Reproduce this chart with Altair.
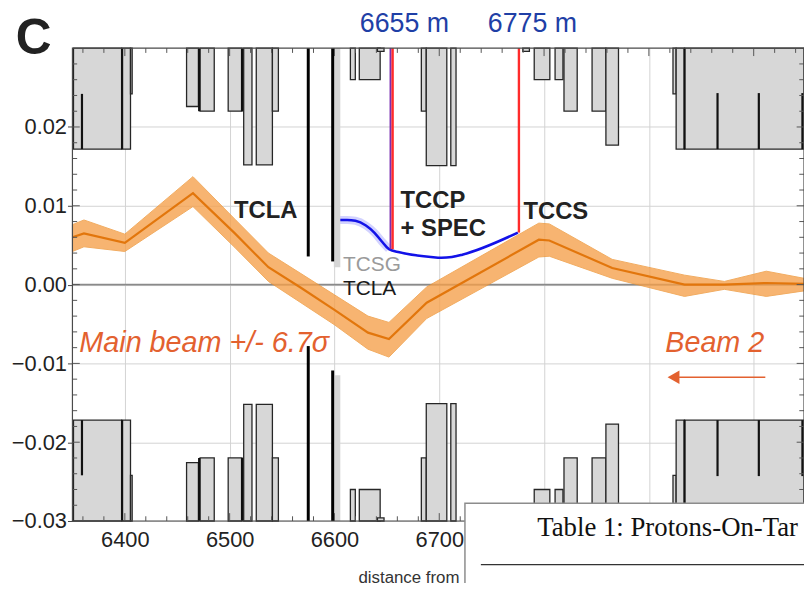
import altair as alt
import pandas as pd

# ---------------- axes ----------------
X_MIN, X_MAX = 6350, 7048
Y_MIN, Y_MAX = -0.03, 0.03
x_ticks = [6400, 6500, 6600, 6700, 6800, 6900, 7000]
y_ticks = [-0.03, -0.02, -0.01, 0.0, 0.01, 0.02]
x_minor = list(range(6360, 7041, 20))
y_minor = [round(-0.028 + 0.002 * i, 3) for i in range(29)]

# ---------------- main beam envelope (orange) ----------------
beam_s = [6350, 6361, 6400, 6465, 6505, 6537, 6568, 6600, 6632, 6652, 6688, 6795, 6805, 6865, 6934, 6972, 7012, 7048]
beam_c = [0.0060, 0.0065, 0.0053, 0.0116, 0.0065, 0.0022, -0.0004, -0.0032, -0.0061, -0.0069, -0.0023, 0.0057, 0.0056, 0.0021, 0.0000, 0.0000, 0.0002, 0.0001]
beam_hi = [0.0076, 0.0082, 0.0064, 0.0137, 0.0083, 0.0040, 0.0014, -0.0013, -0.0040, -0.0048, -0.0003, 0.0078, 0.0077, 0.0032, 0.0012, 0.0004, 0.0017, 0.0008]
beam_lo = [0.0042, 0.0048, 0.0042, 0.0099, 0.0047, 0.0004, -0.0023, -0.0051, -0.0082, -0.0092, -0.0043, 0.0035, 0.0036, 0.0008, -0.0015, -0.0006, -0.0015, -0.0008]

# ---------------- secondary beam (blue) ----------------
blue_s = [6600, 6612, 6620, 6630, 6638, 6645, 6652, 6662, 6679, 6692, 6702, 6712, 6722, 6775]
blue_y = [0.0082, 0.0082, 0.0081, 0.0075, 0.0066, 0.0055, 0.0045, 0.0041, 0.0037, 0.0035, 0.0034, 0.0035, 0.0038, 0.0066]

# ---------------- apertures (grey boxes, mirrored top/bottom) ----------------
ap_x1 = [6351, 6397.2, 6405.4, 6458.9, 6471.8, 6498.6, 6513.4, 6525.4, 6540.8, 6615.2, 6623.7, 6641, 6682.9, 6687.6, 6711, 6779.7, 6790.6, 6810.5, 6819, 6845.8, 6859, 6923, 6926, 6934]
ap_x2 = [6396.9, 6405.4, 6407, 6470.2, 6485.3, 6511.8, 6521.3, 6540.8, 6546.5, 6619.9, 6643.6, 6647.3, 6687.6, 6707.2, 6716, 6786, 6805.5, 6818, 6831.6, 6859, 6871, 6926, 6934, 7048]
ap_half = [0.0172, 0.0172, 0.0242, 0.0226, 0.0220, 0.0220, 0.0152, 0.0152, 0.0220, 0.0260, 0.0260, 0.0296, 0.0220, 0.0151, 0.0151, 0.0296, 0.0260, 0.0260, 0.0220, 0.0220, 0.0177, 0.0242, 0.0172, 0.0172]

# element dividers (black)
div_x = [6359.1, 6397.4, 6470.9, 6511.8, 6934.0, 6965.5, 7004.9, 7046.5]
div_from = [0.0242, 0.0300, 0.0300, 0.0300, 0.0300, 0.0243, 0.0243, 0.0243]
div_to = [0.0172, 0.0172, 0.0220, 0.0220, 0.0172, 0.0172, 0.0172, 0.0172]

# collimator jaws
jaw_x = [6575.0, 6598.3]
jaw_top = [0.00357, 0.00294]
jaw_bot = [-0.0078, -0.0109]
tcsg_x = [6599.4, 6605.6]
tcsg_top = 0.0022
tcsg_bot = -0.0115

# crystal / spectrometer markers
red_x = [6655.5, 6776.0]
red_end = [0.0045, 0.0066]

FONT = "Liberation Sans"
xs = alt.Scale(domain=[X_MIN, X_MAX], nice=False, zero=False)
ys = alt.Scale(domain=[Y_MIN, Y_MAX], nice=False, zero=False)
XAX = alt.Axis(values=x_ticks, format="d", tickSize=0, domain=False, grid=True,
               labelExpr="datum.value > 6750 ? '' : datum.label",
               labelPadding=9, title="distance from", titleAlign="left", titleAnchor="start",
               titleX=288, titlePadding=19)
YAX = alt.Axis(values=y_ticks, labelExpr="replace(format(datum.value, '.2f'), '-', '\u2212')",
               tickSize=5, domain=False, grid=True, labelPadding=1, title="")


def X(f):
    return alt.X(f, type="quantitative", scale=xs, axis=XAX)


def Y(f):
    return alt.Y(f, type="quantitative", scale=ys, axis=YAX)


# boxes
rows = []
for a, b, h in zip(ap_x1, ap_x2, ap_half):
    rows.append({"x1": a, "x2": b, "y1": Y_MAX, "y2": h})
    rows.append({"x1": a, "x2": b, "y1": Y_MIN, "y2": -h})
boxes = alt.Chart(pd.DataFrame(rows)).mark_rect(fill="#d7d7d7", stroke="#262626", strokeWidth=1.3).encode(
    x=X("x1"), x2="x2:Q", y=Y("y1"), y2="y2:Q")

div_rows = []
for x, f, t in zip(div_x, div_from, div_to):
    div_rows.append({"x": x, "y1": f, "y2": t})
    div_rows.append({"x": x, "y1": -f, "y2": -t})
dividers = alt.Chart(pd.DataFrame(div_rows)).mark_rule(color="#111", strokeWidth=2.2).encode(
    x=X("x"), y=Y("y1"), y2="y2:Q")

zero = alt.Chart(pd.DataFrame({"x1": [X_MIN], "x2": [X_MAX], "y": [0.0]})).mark_rule(
    color="#8a8a8a", strokeWidth=1.6).encode(x=X("x1"), x2="x2:Q", y=Y("y"))

beam_df = pd.DataFrame({"s": beam_s, "c": beam_c, "hi": beam_hi, "lo": beam_lo})
band = alt.Chart(beam_df).mark_area(color="#f6a04a", opacity=0.78, stroke="#ee9535", strokeWidth=1).encode(
    x=X("s"), y=Y("lo"), y2="hi:Q")
center = alt.Chart(beam_df).mark_line(color="#e2760c", strokeWidth=2.2).encode(x=X("s"), y=Y("c"))

blue_df = pd.DataFrame({"s": blue_s, "y": blue_y})
glow = alt.Chart(blue_df).transform_filter("datum.s <= 6652").mark_line(
    color="#6a6aff", strokeWidth=8, opacity=0.3, interpolate="monotone").encode(x=X("s"), y=Y("y"))
blue = alt.Chart(blue_df).mark_line(color="#1212e8", strokeWidth=2.6, interpolate="monotone").encode(
    x=X("s"), y=Y("y"))

red_df = pd.DataFrame({"x": red_x, "y1": [Y_MAX, Y_MAX], "y2": red_end})
purple = alt.Chart(red_df.iloc[[0]]).transform_calculate(xp="datum.x - 2").mark_rule(
    color="#7a2fb0", strokeWidth=2).encode(x=X("xp"), y=Y("y1"), y2="y2:Q")
red = alt.Chart(red_df).mark_rule(color="#ff2b2b", strokeWidth=2.4).encode(x=X("x"), y=Y("y1"), y2="y2:Q")

tcsg_df = pd.DataFrame({"x1": [tcsg_x[0]] * 2, "x2": [tcsg_x[1]] * 2, "y1": [Y_MAX, Y_MIN], "y2": [tcsg_top, tcsg_bot]})
tcsg = alt.Chart(tcsg_df).mark_rect(fill="#d6d6d6").encode(x=X("x1"), x2="x2:Q", y=Y("y1"), y2="y2:Q")

jaw_rows = []
for x, t, b in zip(jaw_x, jaw_top, jaw_bot):
    jaw_rows.append({"x": x, "y1": Y_MAX, "y2": t})
    jaw_rows.append({"x": x, "y1": Y_MIN, "y2": b})
jaws = alt.Chart(pd.DataFrame(jaw_rows)).mark_rule(color="#000", strokeWidth=3).encode(
    x=X("x"), y=Y("y1"), y2="y2:Q")

# minor ticks + frame
tick_rows = []
for v in x_minor:
    L = 0.0010 if v % 100 == 0 else 0.0006
    tick_rows.append({"x1": v, "x2": v, "y1": Y_MAX, "y2": Y_MAX - L})
    tick_rows.append({"x1": v, "x2": v, "y1": Y_MIN, "y2": Y_MIN + L})
for v in y_minor:
    L = 7.0 if abs(round(v * 100) - v * 100) < 1e-6 else 4.5
    tick_rows.append({"x1": X_MIN, "x2": X_MIN + L, "y1": v, "y2": v})
    tick_rows.append({"x1": X_MAX, "x2": X_MAX - L, "y1": v, "y2": v})
ticks = alt.Chart(pd.DataFrame(tick_rows)).mark_rule(color="#555", strokeWidth=1).encode(
    x=X("x1"), x2="x2:Q", y=Y("y1"), y2="y2:Q")

frame = alt.Chart(pd.DataFrame({"x1": [X_MIN], "x2": [X_MAX], "y1": [Y_MIN], "y2": [Y_MAX]})).mark_rect(
    filled=False, stroke="#4a4a4a", strokeWidth=1.2).encode(x=X("x1"), x2="x2:Q", y=Y("y1"), y2="y2:Q")

# labels
bold_df = pd.DataFrame({"t": ["TCLA", "TCCP", "+ SPEC", "TCCS"],
                        "x": [6504.2, 6663.1, 6663.1, 6780.3],
                        "y": [0.00937, 0.01063, 0.00711, 0.00925]})
bold = alt.Chart(bold_df).mark_text(font=FONT, fontSize=24, fontWeight="bold", color="#222",
                                    align="left", baseline="middle").encode(x=X("x"), y=Y("y"), text="t:N")

reg_df = pd.DataFrame({"t": ["TCSG", "TCLA"], "x": [6608.2, 6608.2], "y": [0.00245, -0.00057],
                       "c": ["#9a9a9a", "#1a1a1a"]})
reg = alt.Chart(reg_df).mark_text(font=FONT, fontSize=21, align="left", baseline="middle").encode(
    x=X("x"), y=Y("y"), text="t:N", color=alt.Color("c:N", scale=None))

ital_df = pd.DataFrame({"t": ["Main beam +/- 6.7\u03c3", "Beam 2"], "x": [6356.6, 6915.6], "y": [-0.00748, -0.00736]})
ital = alt.Chart(ital_df).mark_text(font=FONT, fontSize=29, fontStyle="italic", color="#e3612f",
                                    align="left", baseline="middle").encode(x=X("x"), y=Y("y"), text="t:N")

arrow_line = alt.Chart(pd.DataFrame({"x1": [6928.8], "x2": [7011.1], "y": [-0.01176]})).mark_rule(
    color="#e3612f", strokeWidth=1.6).encode(x=X("x1"), x2="x2:Q", y=Y("y"))
arrow_head = alt.Chart(pd.DataFrame({"x": [6923.5], "y": [-0.01176]})).mark_point(
    shape="triangle-left", filled=True, color="#e3612f", size=190, opacity=1).encode(x=X("x"), y=Y("y"))

pos_df = pd.DataFrame({"t": ["6655 m", "6775 m"], "x": [6666.8, 6788.9], "y": [0.03305, 0.03305]})
pos = alt.Chart(pos_df).mark_text(font=FONT, fontSize=27, color="#1f3fa6", align="center",
                                  baseline="middle").encode(x=X("x"), y=Y("y"), text="t:N")

panel = alt.Chart(pd.DataFrame({"t": ["C"], "x": [6313.1], "y": [0.0312]})).mark_text(
    font=FONT, fontSize=50, fontWeight="bold", color="#222", align="center", baseline="middle").encode(
    x=X("x"), y=Y("y"), text="t:N")

# overlapping table caption from the page
overlay = alt.Chart(pd.DataFrame({"x1": [6724.5], "x2": [7100], "y1": [-0.02774], "y2": [-0.0460]})).mark_rect(
    fill="white", stroke="#8c8c8c", strokeWidth=1.5).encode(x=X("x1"), x2="x2:Q", y=Y("y1"), y2="y2:Q")
cap = alt.Chart(pd.DataFrame({"t": ["Table 1: Protons-On-Tar"], "x": [6793.5], "y": [-0.03088]})).mark_text(
    font="Liberation Serif", fontSize=27, color="#111", align="left", baseline="middle").encode(
    x=X("x"), y=Y("y"), text="t:N")
cap_rule = alt.Chart(pd.DataFrame({"x1": [6739.7], "x2": [7048], "y": [-0.03553]})).mark_rule(
    color="#333", strokeWidth=1.2).encode(x=X("x1"), x2="x2:Q", y=Y("y"))

chart = alt.layer(
    boxes, dividers, zero, band, center, glow, blue, purple, red, tcsg, jaws, ticks, frame,
    bold, reg, ital, arrow_line, arrow_head, pos, panel, overlay, cap, cap_rule
).properties(
    width=738, height=477,
    background="white",
    autosize=alt.AutoSizeParams(type="none"),
    padding={"left": 65, "top": 38, "right": 0, "bottom": 60},
).configure_view(stroke=None).configure_axis(
    labelFont=FONT, labelFontSize=22, labelColor="#222", tickColor="#444",
    gridColor="#d2d2d2", gridWidth=1, titleFont=FONT, titleFontSize=17,
    titleFontWeight="normal", titleColor="#333",
)

chart.save("out.html", embed_options={"renderer": "svg", "actions": False})
